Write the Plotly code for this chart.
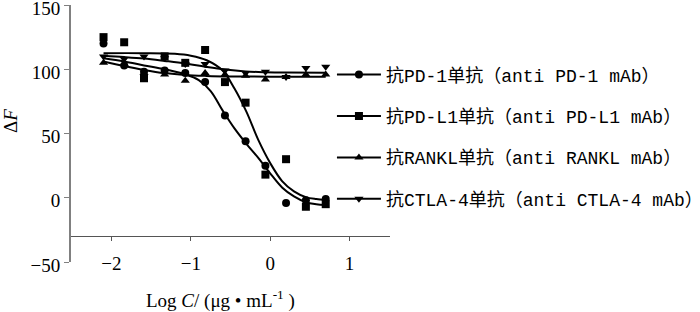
import plotly.graph_objects as go

# ---- data ----
log_c = [-2.10, -1.84, -1.59, -1.33, -1.07, -0.82, -0.57, -0.31, -0.06, 0.20, 0.45, 0.70]

pd1_y = [120, 103, 98, 99, 97, 90, 64, 44, 25, -4, -2, -1]
pdl1_y = [125, 121, 93, 110, 105, 115, 90, 74, 18, 30, -7, -5]
rankl_y = [105, 104, 97, 96, 91, 97, 96, 95, 92, 94, 96, 96]
ctla4_y = [110, 108, 110, 108.5, 104, 104, 99, 97, 98, 94, 101, 102]

# fitted curves
pd1_fit_x = [-2.10, -1.84, -1.59, -1.33, -1.07, -0.9, -0.75, -0.6, -0.45, -0.3, -0.15, 0.0, 0.15, 0.3, 0.45, 0.58, 0.70]
pd1_fit_y = [108.5, 106, 103, 100, 96, 91.5, 83, 68, 54, 42, 31, 19, 8, 1, -3.5, -5, -5.6]

pdl1_fit_x = [-2.10, -1.6, -1.2, -1.0, -0.8, -0.6, -0.45, -0.3, -0.15, 0.0, 0.15, 0.3, 0.45, 0.58, 0.70]
pdl1_fit_y = [112.5, 112.5, 112, 110.5, 107, 99, 85, 67, 45, 27, 13, 5, 0.5, -1, -1.7]

rankl_fit_x = [-2.10, -1.84, -1.59, -1.33, -1.07, -0.8, -0.5, 0.0, 0.70]
rankl_fit_y = [106, 102.5, 99.5, 97, 95.5, 94.8, 94.4, 94.2, 94.2]

ctla4_fit_x = [-2.10, -1.84, -1.59, -1.33, -1.07, -0.82, -0.57, -0.31, -0.06, 0.20, 0.70]
ctla4_fit_y = [110.5, 109.5, 108.3, 106.5, 104.5, 102, 99.8, 98.3, 97.7, 97.4, 97.3]

names = ["抗PD-1单抗（anti PD-1 mAb）",
         "抗PD-L1单抗（anti PD-L1 mAb）",
         "抗RANKL单抗（anti RANKL mAb）",
         "抗CTLA-4单抗（anti CTLA-4 mAb）"]
symbols = ["circle", "square", "triangle-up", "triangle-down"]

y_ticks = [-50, 0, 50, 100, 150]
x_ticks = [-2, -1, 0, 1]

series = [
    (pd1_y, pd1_fit_x, pd1_fit_y),
    (pdl1_y, pdl1_fit_x, pdl1_fit_y),
    (rankl_y, rankl_fit_x, rankl_fit_y),
    (ctla4_y, ctla4_fit_x, ctla4_fit_y),
]

fig = go.Figure()
for i, (ys, fx, fy) in enumerate(series):
    fig.add_trace(go.Scatter(x=fx, y=fy, mode="lines", line=dict(color="black", width=2, shape="spline"),
                             showlegend=False, hoverinfo="skip"))
    fig.add_trace(go.Scatter(x=log_c, y=ys, mode="markers",
                             marker=dict(symbol=symbols[i], color="black", size=8),
                             showlegend=False))
for i in range(4):
    fig.add_trace(go.Scatter(x=[None], y=[None], mode="lines+markers", name=names[i],
                             legendgroup=f"g{i}",
                             line=dict(color="black", width=2),
                             marker=dict(symbol=symbols[i], color="black", size=8)))

serif = "Liberation Serif, Times New Roman, serif"
fig.update_layout(
    width=700, height=312,
    margin=dict(l=71, r=310, t=5, b=50, autoexpand=False),
    paper_bgcolor="white", plot_bgcolor="white",
    font=dict(family=serif, size=19, color="black"),
    xaxis=dict(range=[-2.51, 1.51], tickvals=x_ticks, ticks="outside", ticklen=4,
               tickcolor="#555", showline=True, linecolor="#555", linewidth=1,
               showgrid=False, zeroline=False, anchor="free", position=0.1,
               automargin=False, ticklabelstandoff=6, ticklabeloverflow="allow",
               tickfont=dict(family=serif, size=19)),
    yaxis=dict(range=[-50, 150], tickvals=y_ticks, ticks="outside", ticklen=5,
               tickcolor="#808080", showline=True, linecolor="#808080", linewidth=2,
               automargin=False, ticklabeloverflow="allow", ticklabelshift=3,
               showgrid=False, zeroline=False, tickfont=dict(family=serif, size=19)),
    legend=dict(x=0.818, xanchor="left", y=0.80, yanchor="top", itemwidth=44,
                font=dict(family="Liberation Mono, Noto Sans CJK SC, monospace", size=18, color="black"),
                tracegroupgap=15, bgcolor="rgba(0,0,0,0)"),
    annotations=[
        dict(text="Δ<i>F</i>", xref="paper", yref="paper", x=-0.19, y=0.55,
             xanchor="center", yanchor="middle",
             showarrow=False, textangle=-90, font=dict(family=serif, size=19)),
        dict(text="Log <i>C</i>/ (μg • mL<sup>-1</sup> )", xref="paper", yref="paper",
             x=0.47, y=-0.144, xanchor="center", yanchor="middle", showarrow=False,
             font=dict(family=serif, size=19)),
    ],
)

fig.write_html("out.html", config={"displayModeBar": False},
               post_script="document.body.style.margin='0px';document.body.style.overflow='hidden';")
